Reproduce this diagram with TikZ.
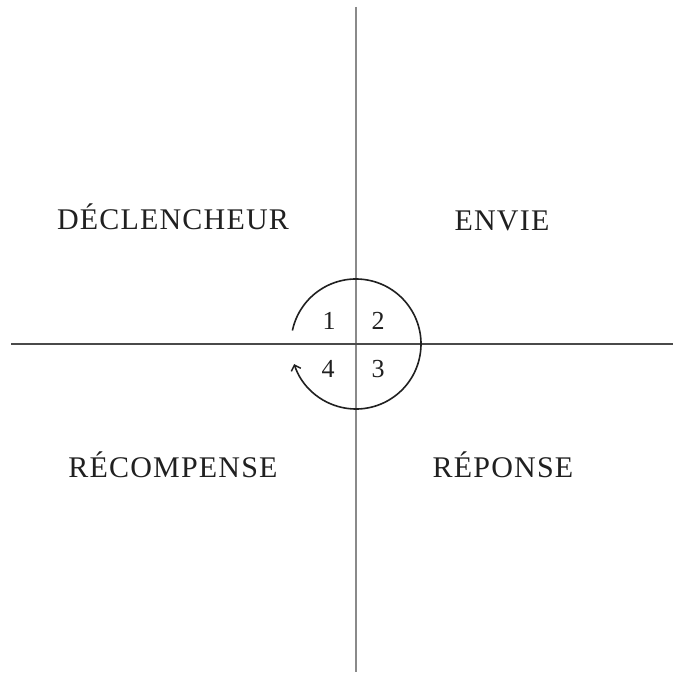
\documentclass[tikz,border=0pt]{standalone}
\usepackage{fontspec}
\setmainfont{Liberation Serif}
\newfontfamily\capsfont[LetterSpace=4]{Liberation Serif}
\usetikzlibrary{arrows.meta}
\definecolor{vline}{HTML}{8A8A8A}
\definecolor{hline}{HTML}{4A4A4A}
\definecolor{ink}{HTML}{202020}
\tikzset{
  label/.style={anchor=base, inner sep=0pt, text=ink, font=\capsfont\fontsize{30}{34}\selectfont},
  digit/.style={anchor=base, inner sep=0pt, text=ink, font=\fontsize{26}{30}\selectfont},
  axisv/.style={draw=vline, line width=2.3pt},
  axish/.style={draw=hline, line width=1.9pt},
  cycle/.style={draw=ink, line width=1.6pt, -{Straight Barb[length=5pt,width=10pt,line width=1.5pt]}}
}
\begin{document}
\begin{tikzpicture}[x=1pt,y=1pt]
\useasboundingbox (0,0) rectangle (673,681);
\coordinate (c) at (356,337);
\coordinate (top) at (356,674);
\coordinate (bot) at (356,9);
\coordinate (left) at (11,337);
\coordinate (right) at (673,337);
\draw[axisv] (top) -- (bot);
\draw[axish] (left) -- (right);
\draw[cycle] ([shift={(168:65)}]c) arc[start angle=168, end angle=-162, radius=65];
\node[label] (dec) at (173,451) {DÉCLENCHEUR};
\node[label] (env) at (502,450) {ENVIE};
\node[label] (rec) at (173,203) {RÉCOMPENSE};
\node[label] (rep) at (503,203) {RÉPONSE};
\node[digit] (n1) at (329,351) {1};
\node[digit] (n2) at (378,351) {2};
\node[digit] (n4) at (328,303) {4};
\node[digit] (n3) at (378,303) {3};
\end{tikzpicture}
\end{document}
